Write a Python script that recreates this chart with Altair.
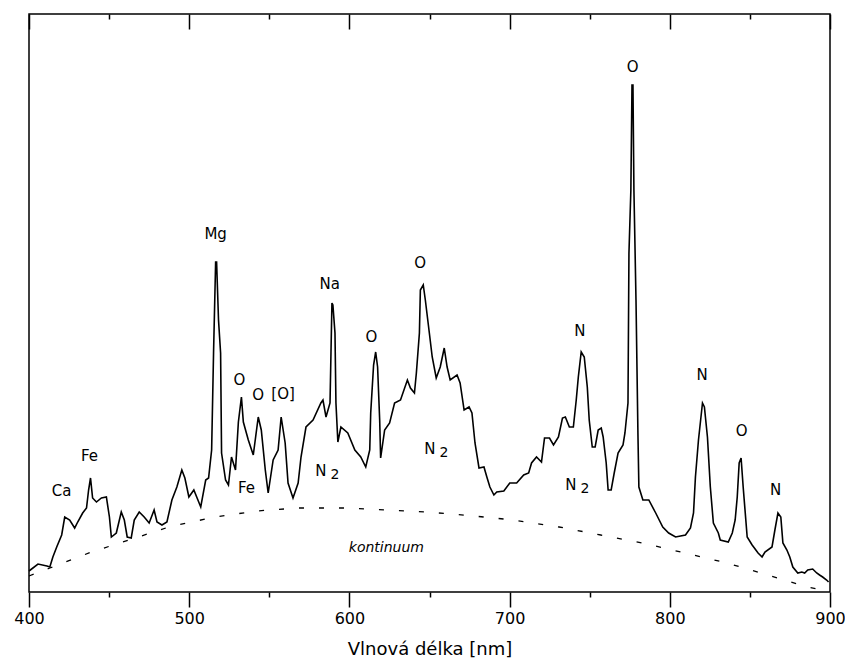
import altair as alt
import pandas as pd

# Spectrum (wavelength nm, intensity arbitrary units)
wl = [400.0, 405.6, 411.2, 413.0, 414.9, 417.3, 420.4, 422.3, 425.4, 428.5, 430.4, 433.5, 435.9, 437.2,
      438.4, 439.7, 442.1, 445.2, 448.3, 450.2, 451.4, 454.5, 457.6, 459.5, 461.3, 463.8, 465.7, 468.8,
      471.9, 475.0, 478.1, 479.9, 483.0, 486.1, 489.2, 492.3, 495.4, 497.3, 499.8, 502.9, 507.2, 510.3,
      512.1, 514.0, 515.2, 516.5, 517.1, 518.3, 519.6, 520.2, 522.7, 524.5, 526.4, 528.9, 530.7, 532.6,
      533.8, 536.9, 540.0, 543.1, 545.0, 547.5, 549.3, 552.4, 555.5, 557.4, 559.9, 561.7, 564.8, 568.0,
      569.8, 572.9, 577.3, 582.2, 583.5, 585.4, 587.9, 588.5, 589.1, 589.7, 591.0, 591.6, 592.8, 594.7,
      599.0, 603.4, 607.1, 610.2, 612.7, 613.3, 615.1, 616.4, 617.6, 618.9, 619.5, 622.0, 625.1, 628.2,
      631.9, 636.2, 638.1, 640.6, 641.8, 643.7, 644.3, 646.1, 647.4, 649.9, 651.7, 654.2, 656.7, 659.2,
      661.0, 662.9, 667.2, 669.1, 671.6, 674.7, 676.5, 678.4, 680.9, 684.0, 685.8, 687.7, 690.2, 692.0,
      696.4, 700.1, 704.4, 708.8, 711.9, 713.7, 716.8, 719.9, 721.8, 724.9, 727.4, 730.5, 733.0, 734.8,
      737.3, 739.8, 741.6, 742.9, 744.7, 746.6, 748.5, 749.7, 751.6, 753.4, 755.3, 757.2, 758.4, 760.3,
      761.5, 763.4, 765.3, 767.7, 770.8, 772.0, 773.9, 774.5, 775.7, 776.4, 777.0, 777.6, 778.9, 780.1,
      780.7, 783.2, 786.9, 791.2, 795.6, 799.3, 803.6, 809.8, 812.9, 814.8, 816.0, 817.9, 820.4, 821.6,
      823.5, 825.3, 827.2, 830.3, 831.5, 836.5, 839.0, 840.8, 842.1, 843.3, 844.5, 845.8, 848.3, 851.4,
      855.1, 857.6, 859.4, 863.8, 865.6, 867.5, 869.3, 870.6, 873.1, 874.9, 876.8, 879.9, 882.4, 884.2,
      886.1, 889.2, 891.7, 893.5, 895.4, 897.9, 899.1]
inten = [21, 28, 26, 25, 35, 45, 57, 75, 72, 64, 70, 79, 84, 102,
         114, 94, 90, 94, 95, 75, 55, 59, 80, 72, 55, 54, 72, 80,
         75, 69, 82, 70, 67, 70, 92, 105, 122, 114, 95, 102, 85, 112,
         114, 142, 239, 330, 330, 272, 239, 139, 112, 107, 135, 122, 170, 195,
         170, 152, 137, 175, 162, 122, 99, 132, 142, 175, 149, 109, 94, 109,
         135, 165, 172, 189, 192, 175, 189, 239, 289, 287, 259, 189, 150, 165,
         159, 142, 135, 125, 142, 179, 227, 240, 225, 172, 134, 162, 169, 189,
         192, 212, 204, 199, 219, 259, 302, 307, 292, 259, 235, 214, 225, 244,
         225, 212, 217, 209, 182, 185, 179, 149, 124, 125, 115, 105, 97, 100,
         101, 109, 109, 117, 119, 129, 135, 130, 154, 154, 147, 155, 174, 175,
         165, 165, 192, 215, 240, 235, 205, 172, 145, 145, 162, 164, 155, 129,
         102, 102, 119, 139, 147, 159, 189, 339, 402, 507, 507, 402, 292, 159,
         105, 92, 92, 79, 65, 59, 55, 57, 64, 79, 115, 152, 189, 185,
         155, 105, 69, 59, 52, 50, 59, 72, 95, 129, 134, 105, 55, 47,
         39, 35, 40, 45, 62, 79, 75, 49, 42, 35, 25, 19, 20, 19,
         22, 23, 19, 17, 15, 12, 10]

# Continuum (dashed)
cont_wl = [400.0, 413.0, 439.0, 464.4, 489.2, 516.5, 541.9, 567.9, 597.0, 623.7, 648.5, 677.6,
           702.4, 730.9, 756.9, 782.9, 809.5, 835.6, 861.0, 885.7, 896.0]
cont_i = [16, 24, 40, 53, 66, 75, 81, 84, 84, 82, 80, 76, 72, 65, 57, 49, 39, 29, 17, 5, 2]

# Peak labels
lab_text = ["Ca", "Fe", "Fe", "Mg", "O", "O", "[O]", "Na", "O", "O", "N", "O", "N", "O", "N",
            "N", "N", "N"]
lab_wl = [420.4, 437.8, 535.7, 516.5, 531.4, 543.1, 558.6, 587.7, 613.8, 644.1, 743.9, 776.8,
          820.1, 844.9, 866.0, 582.2, 650.3, 738.3]
lab_i = [101, 136, 104, 358, 212, 197, 198, 308, 255, 329, 261, 525, 217, 161, 102, 121, 143, 107]

# subscripts "2" of the N2 labels
sub_text = ["2", "2", "2"]
sub_wl = [582.2, 650.3, 738.3]
sub_i = [121, 143, 107]

cont_label = ["kontinuum"]
cont_label_wl = [623.1]
cont_label_i = [44]

major_ticks = [400, 500, 600, 700, 800, 900]
minor_ticks = [450, 550, 650, 750, 850]

FONT = "DejaVu Sans"

spec_df = pd.DataFrame({"wl": wl, "I": inten})
cont_df = pd.DataFrame({"wl": cont_wl, "I": cont_i})
lab_df = pd.DataFrame({"t": lab_text, "wl": lab_wl, "I": lab_i})
sub_df = pd.DataFrame({"t": sub_text, "wl": sub_wl, "I": sub_i})
kl_df = pd.DataFrame({"t": cont_label, "wl": cont_label_wl, "I": cont_label_i})

xs = alt.Scale(domain=[400, 900], nice=False)
ys = alt.Scale(domain=[0, 578], nice=False, zero=False)
Y = alt.Y("I:Q", scale=ys, axis=None)

spectrum = alt.Chart(spec_df).mark_line(color="black", strokeWidth=1.6).encode(
    x=alt.X("wl:Q", scale=xs, axis=alt.Axis(
        orient="bottom", values=major_ticks, tickSize=15, tickWidth=1.5, tickColor="black",
        domain=False, grid=False, labelFont=FONT, labelFontSize=16, labelColor="black",
        labelPadding=3, title="Vlnová délka [nm]", titleFont=FONT, titleFontSize=18,
        titleFontWeight="normal", titleColor="black", titlePadding=14, labelFlush=False)),
    y=Y,
)

continuum = alt.Chart(cont_df).mark_line(color="black", strokeWidth=1.3, strokeDash=[5, 15]).encode(
    x=alt.X("wl:Q", scale=xs, axis=alt.Axis(
        orient="bottom", values=minor_ticks, tickSize=5, tickWidth=1.5, tickColor="black",
        domain=False, grid=False, labels=False, title=None)),
    y=Y,
)

labels = alt.Chart(lab_df).mark_text(font=FONT, fontSize=15, color="black", baseline="middle",
                                      align="center").encode(
    x=alt.X("wl:Q", scale=xs, axis=alt.Axis(
        orient="top", values=major_ticks, tickSize=15, tickWidth=1.5, tickColor="black",
        offset=-15, domain=False, grid=False, labels=False, title=None)),
    y=Y,
    text="t:N",
)

subs = alt.Chart(sub_df).mark_text(font=FONT, fontSize=14, color="black", baseline="middle",
                                    align="center", dx=14, dy=4).encode(
    x=alt.X("wl:Q", scale=xs, axis=alt.Axis(
        orient="top", values=minor_ticks, tickSize=5, tickWidth=1.5, tickColor="black",
        offset=-5, domain=False, grid=False, labels=False, title=None)),
    y=Y,
    text="t:N",
)

klabel = alt.Chart(kl_df).mark_text(font=FONT, fontSize=14, fontStyle="italic", color="black",
                                     baseline="middle", align="center").encode(
    x=alt.X("wl:Q", scale=xs, axis=None),
    y=Y,
    text="t:N",
)

chart = alt.layer(spectrum, continuum, labels, subs, klabel).resolve_axis(
    x="independent"
).properties(
    width=801, height=578,
    autosize=alt.AutoSizeParams(type="none"),
    padding={"left": 21, "top": 6, "right": 15, "bottom": 67},
).configure(
    background="white"
).configure_view(
    stroke="black", strokeWidth=1.5
)

chart.save("out.html", embed_options={"renderer": "svg", "actions": False})
